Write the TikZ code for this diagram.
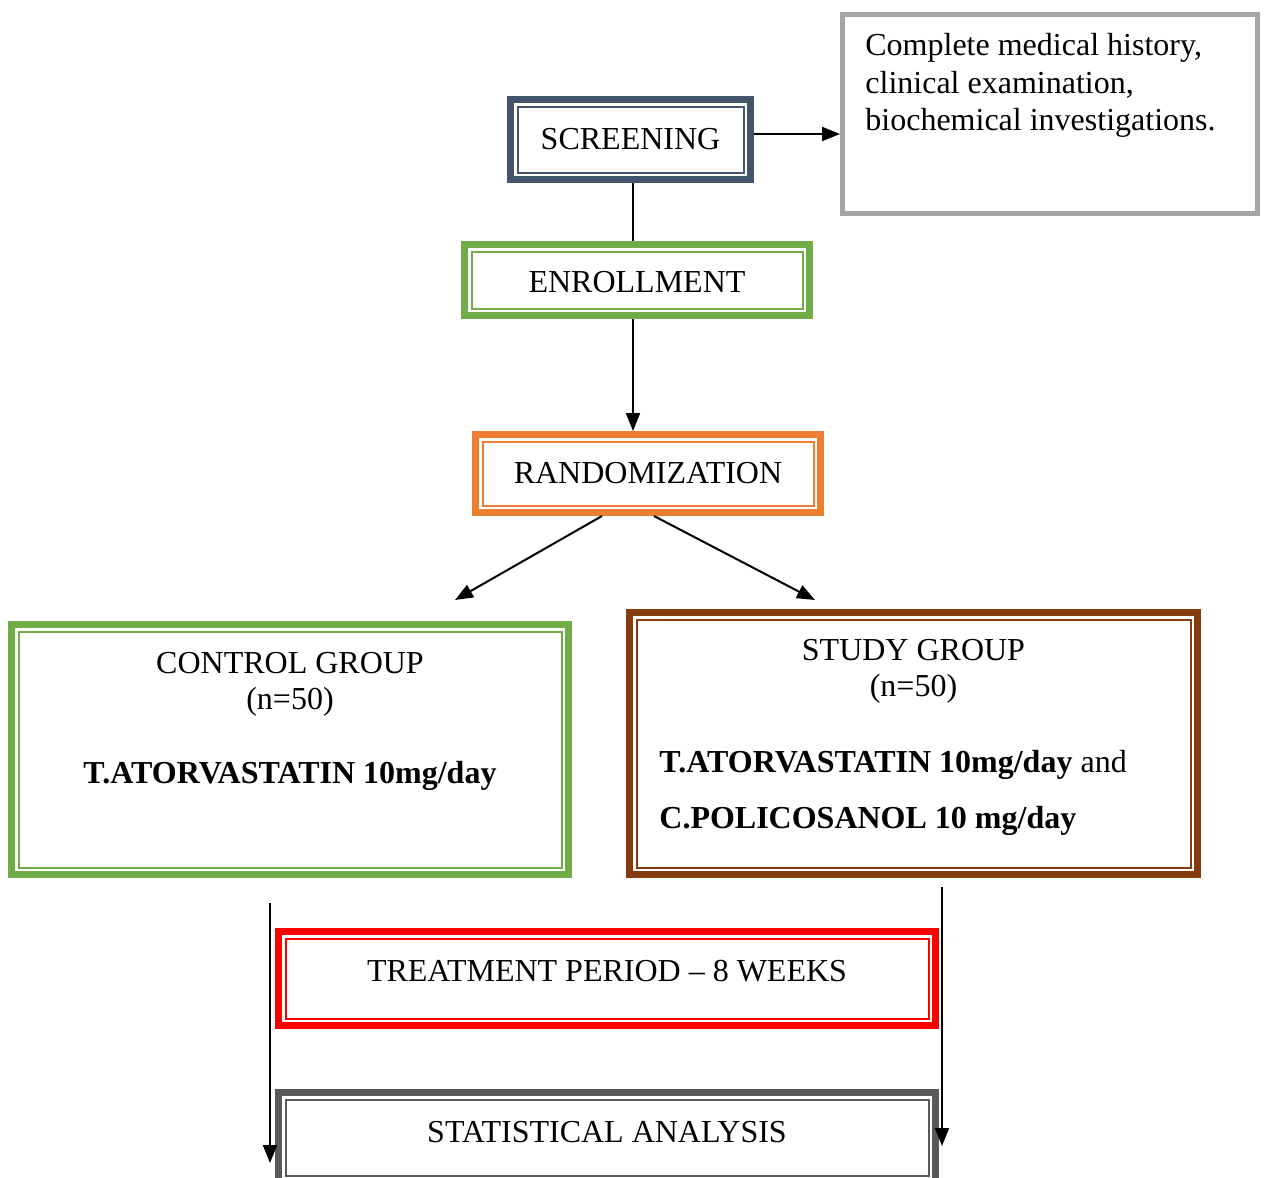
\documentclass[tikz,border=0pt]{standalone}
\usepackage{fontspec}
\setmainfont{Liberation Serif}
\usetikzlibrary{arrows.meta,positioning}
\definecolor{cScreen}{HTML}{44546A}
\definecolor{cLeaf}{HTML}{70AD47}
\definecolor{cCarrot}{HTML}{ED7D31}
\definecolor{cRust}{HTML}{843C0C}
\definecolor{cStat}{HTML}{595959}
\definecolor{cInfo}{HTML}{A5A5A5}
% thick-thin framed box
\tikzset{
  dbox/.style={fill=white, draw=#1, line width=1pt,
    preaction={draw=#1, line width=10.5pt},
    preaction={draw=white, line width=3.5pt},
    outer sep=5.25pt, inner sep=0pt},
  arrow/.style={line width=1pt, -{Triangle[length=9pt,width=7pt]}},
  link/.style={line width=1pt},
  txt/.style={inner sep=0pt}
}
\begin{document}
\begin{tikzpicture}[x=0.5pt, y=-0.5pt, font=\fontsize{16pt}{18pt}\selectfont]
\useasboundingbox (0,0) rectangle (1266,1178);
\clip (0,0) rectangle (1266,1178);

% boxes
\node[dbox=cScreen, minimum width=113pt, minimum height=33pt] (scr) at (630.5,139.5) {SCREENING};
\node[draw=cInfo, line width=2.5pt, inner sep=0pt, minimum width=207.5pt, minimum height=99.5pt] (info) at (1050,114) {};
\node[txt, align=left, below right=10.5pt and 12.5pt of info.north west, font=\fontsize{16pt}{18.75pt}\selectfont] (infotxt)
  {Complete medical history,\\clinical examination,\\biochemical investigations.};
\node[dbox=cLeaf, minimum width=165.5pt, minimum height=28.5pt, text height=12.5pt] (enr) at (637,280) {ENROLLMENT};
\node[dbox=cCarrot, minimum width=165.5pt, minimum height=32pt] (rand) at (648,473.5) {RANDOMIZATION};

\node[dbox=cLeaf, minimum width=271.5pt, minimum height=118pt] (ctrl) at (290,749.5) {};
\node[txt, align=center, below=15.5pt of ctrl.north] (ctrltxt)
  {CONTROL GROUP\\(n=50)\\[19pt]\textbf{T.ATORVASTATIN 10mg/day}};
\node[dbox=cRust, minimum width=277pt, minimum height=124pt] (study) at (913.5,743.5) {};
\node[txt, align=center, below=15pt of study.north] (studytxt) {STUDY GROUP\\(n=50)};
\node[txt, align=left, below right=70.5pt and 16.5pt of study.north west] (studydrug)
  {\textbf{T.ATORVASTATIN 10mg/day} and\\[10pt]\textbf{C.POLICOSANOL 10 mg/day}};

\node[dbox=red, minimum width=321.5pt, minimum height=40pt, text depth=7.3pt] (treat) at (607,978.5) {TREATMENT PERIOD -- 8 WEEKS};
\node[dbox=cStat, minimum width=321.5pt, minimum height=38pt, text depth=5.3pt] (stat) at (607,1137.5) {STATISTICAL ANALYSIS};

% connectors
\draw[arrow] ([yshift=2.75pt]scr.east) -- ([yshift=2.75pt]scr.east -| info.west);
\draw[link] ([xshift=1.25pt]scr.south) -- ([xshift=1.25pt]scr.south |- enr.north);
\draw[arrow] ([xshift=-2pt]enr.south) -- ([xshift=-2pt]enr.south |- rand.north);

\coordinate (ctrlin) at (455,600);
\coordinate (studyin) at (815,600);
\draw[arrow] ([xshift=-23pt]rand.south) -- (ctrlin);
\draw[arrow] ([xshift=3pt]rand.south) -- (studyin);

\coordinate (lefttop) at (270,903);
\coordinate (leftend) at (270,1163);
\coordinate (righttop) at (942,887);
\coordinate (rightend) at (942,1146);
\draw[arrow] (lefttop) -- (leftend);
\draw[arrow] (righttop) -- (rightend);
\end{tikzpicture}
\end{document}
